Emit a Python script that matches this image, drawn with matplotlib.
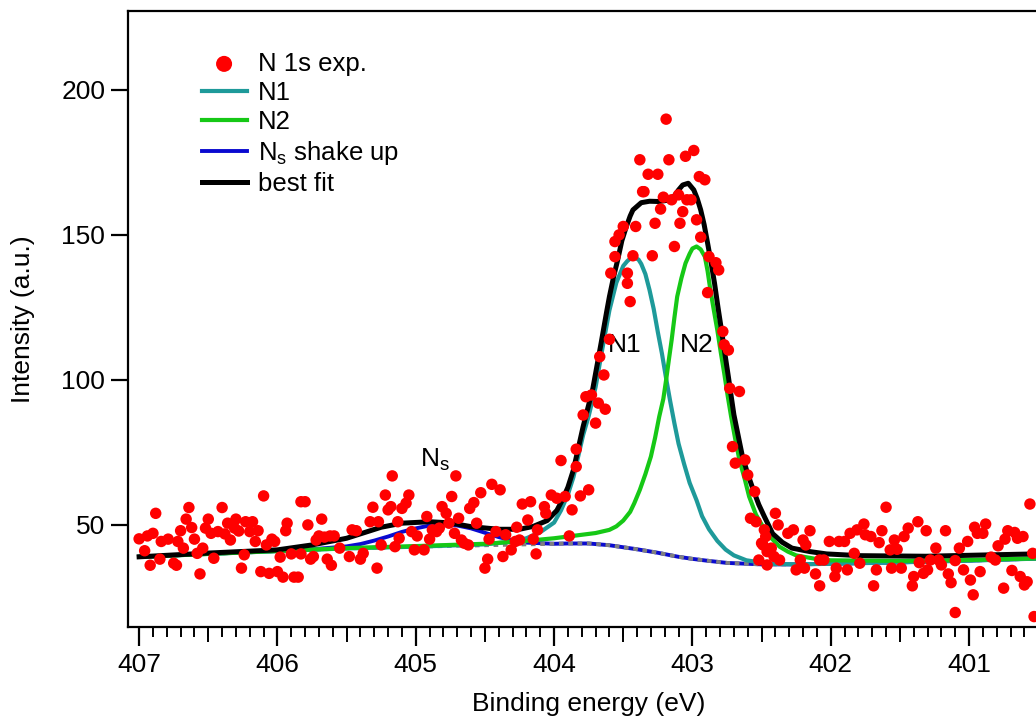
import matplotlib
matplotlib.use("Agg")
import matplotlib.pyplot as plt
from matplotlib.ticker import MultipleLocator

plt.rcParams['font.family'] = ['Liberation Sans', 'DejaVu Sans']
plt.rcParams['font.size'] = 19
plt.rcParams['mathtext.fontset'] = 'custom'
plt.rcParams['mathtext.rm'] = 'Liberation Sans'
plt.rcParams['mathtext.it'] = 'Liberation Sans:italic'

# N 1s experimental points (binding energy in eV, intensity in a.u.)
exp_energy = [
    407.00, 406.96, 406.92, 406.94, 406.90, 406.88, 406.84, 406.85, 406.79, 406.75,
    406.73, 406.72, 406.70, 406.68, 406.66, 406.64, 406.62, 406.60, 406.56, 406.54,
    406.58, 406.52, 406.50, 406.48, 406.46, 406.43, 406.40, 406.38, 406.36, 406.34,
    406.31, 406.30, 406.28, 406.26, 406.24, 406.23, 406.18, 406.20, 406.16, 406.14,
    406.12, 406.10, 406.08, 406.06, 406.04, 406.02, 406.00, 405.98, 405.96, 405.93,
    405.94, 405.90, 405.88, 405.85, 405.83, 405.83, 405.80, 405.78, 405.76, 405.74,
    405.72, 405.68, 405.70, 405.66, 405.64, 405.61, 405.62, 405.59,
    405.55, 405.48, 405.46, 405.43, 405.40, 405.38, 405.33, 405.31, 405.28, 405.27,
    405.25, 405.22, 405.20, 405.18, 405.17, 405.15, 405.12, 405.13, 405.10, 405.07,
    405.05, 405.03, 405.01, 404.99, 404.94, 404.92, 404.90, 404.88, 404.85, 404.83,
    404.81, 404.78, 404.76, 404.74, 404.72, 404.71, 404.69, 404.67, 404.65, 404.62,
    404.61, 404.58, 404.56, 404.53, 404.50, 404.48, 404.47, 404.45, 404.42, 404.39,
    404.37, 404.35, 404.31, 404.28, 404.27, 404.25, 404.23, 404.19, 404.17, 404.15,
    404.13, 404.12,
    404.07, 404.06, 404.02, 403.98, 403.95, 403.92, 403.89, 403.87, 403.84, 403.84,
    403.81, 403.79, 403.77, 403.75, 403.73, 403.70, 403.68, 403.67, 403.64, 403.63,
    403.60, 403.59, 403.56, 403.56, 403.53, 403.50, 403.47, 403.47, 403.45, 403.43,
    403.41, 403.38, 403.36, 403.35, 403.32, 403.29, 403.27, 403.25,
    403.19, 403.21, 403.23, 403.17, 403.15, 403.13, 403.10, 403.09, 403.07, 403.05,
    403.04, 403.01, 402.99, 402.97, 402.95, 402.94, 402.91, 402.88, 402.89, 402.83,
    402.81, 402.78, 402.77, 402.74, 402.73, 402.66, 402.71, 402.69, 402.62, 402.60,
    402.55, 402.58, 402.54, 402.48, 402.47, 402.49, 402.40, 402.38,
    402.50, 402.46, 402.43, 402.41, 402.37, 402.52, 402.46,
    402.31, 402.27, 402.25, 402.22, 402.20, 402.19, 402.18, 402.15, 402.11, 402.08,
    402.08, 402.05, 402.01, 401.97, 401.96, 401.94, 401.90, 401.88, 401.86, 401.83,
    401.81, 401.79, 401.76, 401.75, 401.71, 401.69, 401.67, 401.65, 401.63, 401.60,
    401.57, 401.56, 401.54, 401.52, 401.49, 401.47, 401.44,
    401.41, 401.40, 401.37, 401.36, 401.33, 401.31, 401.30, 401.28, 401.24, 401.22,
    401.20, 401.17, 401.15, 401.13, 401.10, 401.10, 401.07, 401.04, 401.01, 400.99,
    400.97, 400.96, 400.94, 400.92, 400.90, 400.88, 400.84, 400.81, 400.79, 400.75,
    400.74, 400.72, 400.69, 400.67, 400.65, 400.63, 400.61, 400.60, 400.58, 400.56,
    400.54, 400.53,
]
exp_counts = [
    45.2, 41.1, 36.1, 46.2, 47.1, 54.0, 44.3, 38.2, 45.1, 36.8,
    36.1, 44.3, 48.0, 42.0, 52.0, 56.0, 49.1, 45.1, 33.1, 42.0,
    40.2, 48.9, 52.0, 47.1, 38.5, 47.7, 56.0, 46.9, 50.6, 44.8,
    48.9, 52.0, 47.9, 35.1, 39.7, 51.1, 51.1, 47.7, 44.3, 48.0,
    33.9, 60.0, 43.1, 33.3, 45.1, 44.3, 33.9, 38.9, 32.0, 50.6,
    48.0, 40.0, 32.0, 32.0, 40.0, 58.0, 58.0, 50.0, 38.2, 39.1,
    44.8, 52.0, 46.2, 45.8, 38.2, 36.1, 46.2, 46.2,
    42.0, 39.1, 48.3, 48.0, 38.2, 40.2, 51.1, 56.1, 35.1, 51.1,
    43.1, 60.3, 55.2, 56.3, 66.9, 42.5, 45.4, 51.1, 55.7, 57.5,
    60.3, 47.7, 41.4, 46.2, 41.4, 52.9, 45.1, 48.3, 47.7, 48.9,
    56.3, 54.0, 50.6, 59.8, 47.1, 66.9, 52.3, 44.8, 43.7, 43.1,
    55.7, 57.7, 50.6, 61.1, 35.1, 38.2, 45.1, 64.0, 47.7, 62.1,
    39.1, 46.6, 41.4, 44.3, 49.2, 44.8, 57.2, 51.7, 58.0, 45.1,
    40.0, 48.3,
    56.3, 54.0, 60.3, 59.2, 72.2, 59.8, 46.2, 55.2, 76.1, 70.1,
    60.0, 87.9, 94.2, 62.1, 94.8, 85.1, 92.0, 108.0, 101.7, 89.9,
    114.0, 136.8, 142.5, 147.7, 150.0, 152.9, 133.3, 136.8, 127.0, 142.8,
    152.9, 175.9, 164.9, 164.9, 170.9, 142.8, 154.0, 170.9,
    189.9, 163.0, 158.9, 175.9, 162.1, 146.0, 163.8, 154.0, 158.0, 177.1,
    162.1, 162.1, 179.1, 155.2, 170.1, 149.2, 169.0, 142.5, 130.1, 140.4,
    137.9, 116.7, 112.1, 110.3, 97.1, 96.0, 77.0, 71.3, 72.4, 67.2,
    61.5, 52.3, 51.1, 48.3, 46.0, 43.1, 54.0, 50.0,
    43.7, 40.8, 42.0, 39.1, 37.9, 37.9, 36.2,
    47.1, 48.3, 34.5, 37.9, 44.8, 35.1, 43.1, 48.0, 33.1, 37.9,
    29.0, 37.9, 44.3, 32.2, 35.1, 44.3, 44.3, 34.5, 47.1, 40.2,
    48.3, 36.8, 50.3, 46.6, 46.0, 29.0, 34.5, 43.9, 48.0, 56.1,
    41.4, 35.1, 44.8, 41.6, 35.1, 46.0, 48.9,
    29.0, 32.2, 51.1, 37.0, 33.3, 48.0, 34.5, 37.9, 42.0, 37.9,
    36.2, 48.0, 33.1, 30.1, 37.7, 19.8, 42.0, 34.5, 44.3, 31.0,
    25.9, 49.2, 47.1, 33.9, 47.1, 50.3, 38.9, 37.9, 42.8, 28.2,
    45.1, 48.0, 34.3, 47.4, 45.4, 32.2, 46.0, 29.3, 30.4, 57.2,
    40.2, 18.4,
]

# background (grey dotted)
bg_energy = [407.0, 406.5, 406.0, 405.5, 405.0, 404.5, 404.0, 403.9, 403.75, 403.6,
             403.5, 403.4, 403.25, 403.1, 403.0, 402.9, 402.75, 402.6, 402.5, 402.25,
             402.0, 401.5, 401.0, 400.5]
bg_counts = [39.0, 40.0, 41.0, 41.9, 42.5, 43.0, 43.5, 43.6, 43.6, 43.0,
             42.3, 41.6, 40.4, 39.0, 38.3, 37.7, 36.9, 36.6, 36.4, 36.4,
             36.6, 37.1, 37.7, 38.4]

# N1 component + background (teal)
n1_energy = [407.0, 406.5, 406.0, 405.5, 405.0, 404.5, 404.3, 404.2, 404.1, 404.0,
             403.95, 403.9, 403.86, 403.79, 403.75, 403.7, 403.65, 403.6, 403.55, 403.5,
             403.47, 403.45, 403.42, 403.39, 403.37, 403.34, 403.31, 403.28, 403.25, 403.22,
             403.19, 403.16, 403.13, 403.10, 403.06, 403.02, 402.97, 402.93, 402.88, 402.82,
             402.76, 402.70, 402.61, 402.44, 402.25, 402.0, 401.5, 401.0, 400.5]
n1_counts = [39.0, 40.0, 41.0, 41.9, 42.5, 43.3, 44.3, 45.4, 47.5, 50.8,
             55.0, 60.5, 66.5, 81.0, 87.5, 97.5, 111.0, 124.0, 133.5, 139.3,
             141.0, 141.8, 142.2, 141.5, 140.0, 136.5, 131.0, 124.5, 116.5, 109.0,
             100.5, 92.5, 85.0, 78.0, 71.0, 64.5, 58.5, 53.0, 48.5, 44.5,
             41.5, 39.5, 37.8, 36.6, 36.4, 36.6, 37.1, 37.7, 38.4]

# N2 component + background (green)
n2_energy = [407.0, 406.5, 406.0, 405.5, 405.0, 404.5, 404.2, 404.0, 403.8, 403.7,
             403.6, 403.55, 403.5, 403.45, 403.42, 403.38, 403.34, 403.3, 403.27, 403.24,
             403.21, 403.19, 403.17, 403.15, 403.13, 403.11, 403.08, 403.05, 403.02, 403.0,
             402.97, 402.94, 402.91, 402.89, 402.87, 402.845, 402.82, 402.795, 402.77, 402.745,
             402.72, 402.69, 402.66, 402.62, 402.59, 402.54, 402.49, 402.43, 402.37, 402.31,
             402.25, 402.1, 402.0, 401.5, 401.0, 400.5]
n2_counts = [39.0, 40.0, 41.0, 42.0, 42.7, 43.5, 44.5, 45.4, 46.6, 47.2,
             48.3, 49.5, 51.5, 54.5, 57.5, 62.1, 67.5, 73.6, 80.0, 87.3,
             93.5, 100.0, 107.0, 113.8, 121.5, 128.7, 135.0, 140.2, 143.5, 145.3,
             146.0, 145.0, 142.5, 137.5, 131.0, 124.0, 117.2, 109.5, 102.3, 94.5,
             87.3, 79.5, 72.4, 65.5, 59.8, 53.5, 49.4, 45.5, 42.5, 40.8,
             39.5, 38.2, 37.8, 37.6, 37.9, 38.5]

# Ns shake up + background (blue)
ns_energy = [407.0, 406.5, 406.0, 405.75, 405.5, 405.4, 405.3, 405.2, 405.1, 405.0,
             404.9, 404.8, 404.7, 404.6, 404.5, 404.4, 404.3, 404.2, 404.0, 403.9,
             403.75, 403.6, 403.5, 403.4, 403.25, 403.1, 403.0, 402.9, 402.75, 402.6,
             402.5, 402.25, 402.0, 401.5, 401.0, 400.5]
ns_counts = [39.0, 40.0, 41.0, 41.6, 42.6, 43.4, 44.6, 46.0, 47.6, 48.8,
             49.8, 50.1, 49.8, 48.8, 47.3, 45.8, 44.6, 43.9, 43.5, 43.6,
             43.6, 43.0, 42.3, 41.6, 40.4, 39.0, 38.3, 37.7, 36.9, 36.6,
             36.4, 36.4, 36.6, 37.1, 37.7, 38.4]

# best fit envelope (black)
fit_energy = [407.0, 406.5, 406.0, 405.75, 405.5, 405.25, 405.1, 404.9, 404.75, 404.6,
              404.4, 404.25, 404.15, 404.05, 403.98, 403.94, 403.9, 403.86, 403.79, 403.72,
              403.66, 403.62, 403.6, 403.57, 403.54, 403.51, 403.48, 403.45, 403.43, 403.37,
              403.31, 403.24, 403.17, 403.13, 403.10, 403.07, 403.03, 402.99, 402.965, 402.94,
              402.915, 402.89, 402.865, 402.84, 402.815, 402.79, 402.765, 402.74, 402.72, 402.7,
              402.67, 402.64, 402.6, 402.56, 402.52, 402.48, 402.42, 402.35, 402.28, 402.15,
              402.03, 401.79, 401.31, 400.83, 400.52]
fit_counts = [39.0, 40.3, 41.4, 43.1, 45.4, 49.2, 50.6, 51.1, 50.7, 49.4,
              48.5, 48.5, 49.5, 51.5, 55.0, 58.6, 63.0, 69.0, 83.9, 97.0,
              112.7, 123.5, 128.7, 135.5, 141.4, 148.0, 152.5, 156.5, 158.6, 161.1,
              161.6, 161.5, 162.0, 163.5, 165.5, 167.2, 167.8, 165.5, 162.5, 158.6,
              153.5, 147.1, 140.5, 133.3, 125.0, 117.2, 109.0, 101.1, 94.5, 88.0,
              81.0, 74.0, 67.5, 62.1, 57.0, 52.9, 47.0, 44.0, 42.0, 40.8,
              40.0, 39.4, 39.2, 39.7, 40.0]

fig = plt.figure(figsize=(10.36, 7.17), dpi=100)
ax = fig.add_axes([0.1236, 0.1255, 0.8764, 0.8592])

ax.plot(ns_energy, ns_counts, color='#0a0ad0', lw=2.8, zorder=2, label='N$_\\mathrm{s}$ shake up')
ax.plot(bg_energy, bg_counts, color='#808080', lw=2.8, ls=(0, (1.2, 1.2)), zorder=2.5)
ax.plot(n1_energy, n1_counts, color='#1e9a9a', lw=3.0, zorder=3, label='N1')
ax.plot(n2_energy, n2_counts, color='#16c816', lw=3.0, zorder=3, label='N2')
ax.plot(fit_energy, fit_counts, color='black', lw=3.6, zorder=4, label='best fit')
ax.scatter(exp_energy, exp_counts, s=68, color='#ff0000', edgecolors='none', zorder=5,
           label='N 1s exp.')

ax.text(403.49, 112, 'N1', ha='center', va='center')
ax.text(402.97, 112, 'N2', ha='center', va='center')
ax.text(404.86, 72.4, 'N$_\\mathrm{s}$', ha='center', va='center')

ax.set_xlim(407.08, 400.516)
ax.set_ylim(14.8, 227.2)

ax.spines['right'].set_visible(False)
for s in ['left', 'top', 'bottom']:
    ax.spines[s].set_linewidth(1.6)

ax.set_yticks([50, 100, 150, 200])
ax.xaxis.set_major_locator(MultipleLocator(1))
ax.xaxis.set_minor_locator(MultipleLocator(0.1))
ax.tick_params(axis='y', direction='out', length=12.5, width=1.6, pad=4)
ax.tick_params(axis='x', which='major', direction='out', length=14, width=1.6, pad=5)
ax.tick_params(axis='x', which='minor', direction='out', length=7.5, width=1.4)

# half-eV ticks, a bit longer than the minor ones
sec = ax.secondary_xaxis('bottom')
sec.set_xticks([406.5, 405.5, 404.5, 403.5, 402.5, 401.5, 400.5])
sec.tick_params(direction='out', length=10.5, width=1.4, labelbottom=False)
sec.spines['bottom'].set_visible(False)

ax.set_xlabel('Binding energy (eV)')
ax.set_ylabel('Intensity (a.u.)')
ax.xaxis.set_label_coords(0.507, -0.106)
ax.yaxis.set_label_coords(-0.103, 0.5)

handles, labels = ax.get_legend_handles_labels()
order = [4, 1, 2, 0, 3]
ax.legend([handles[i] for i in order], [labels[i] for i in order],
          loc='upper left', bbox_to_anchor=(0.081, 0.934), frameon=False,
          borderpad=0, borderaxespad=0, handlelength=1.75, handletextpad=0.45,
          labelspacing=0.2, markerscale=1.4, fontsize=18.5)

fig.savefig('out.png', dpi=100)
